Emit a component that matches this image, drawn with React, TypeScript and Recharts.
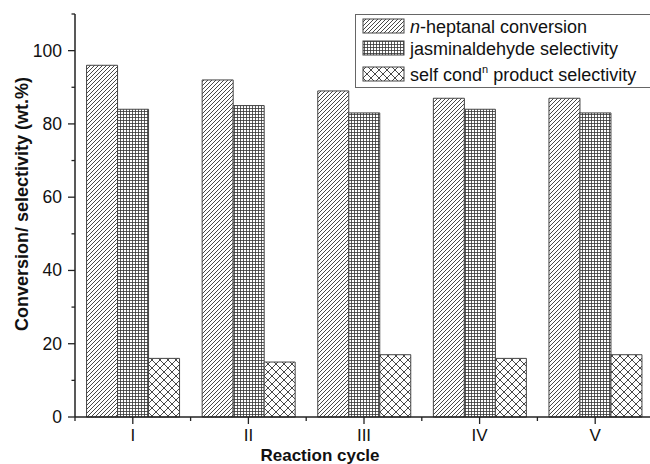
import { BarChart, Bar, XAxis, YAxis, Legend } from 'recharts'

const cycles = ['I', 'II', 'III', 'IV', 'V']
const heptanalConversion = [96, 92, 89, 87, 87]
const jasminaldehydeSelectivity = [84, 85, 83, 84, 83]
const selfCondSelectivity = [16, 15, 17, 16, 17]
const yTicks = [0, 10, 20, 30, 40, 50, 60, 70, 80, 90, 100, 110]

const data = cycles.map((c, i) => ({
  cycle: c,
  conversion: heptanalConversion[i],
  jasmin: jasminaldehydeSelectivity[i],
  selfCond: selfCondSelectivity[i],
}))

const FONT = '"Liberation Sans", Arial, sans-serif'
const INK = '#222'

const YTick = (props: any) => {
  const { x, y, payload } = props
  const v = payload.value
  const major = v % 20 === 0 && v <= 100
  return (
    <g>
      <line x1={x - (major ? 7 : 3.5)} x2={x} y1={y} y2={y} stroke={INK} strokeWidth={1.3} />
      {major && (
        <text x={x - 13} y={y + 6} textAnchor="end" fontSize={17.5} fontFamily={FONT} fill="#111">
          {v}
        </text>
      )}
    </g>
  )
}

const XTick = (props: any) => {
  const { x, y, payload } = props
  const half = 115.6 / 2
  return (
    <g>
      <line x1={x} x2={x} y1={y} y2={y + 7} stroke={INK} strokeWidth={1.3} />
      <line x1={x - half} x2={x - half} y1={y} y2={y + 4} stroke={INK} strokeWidth={1.3} />
      <text x={x} y={y + 24} textAnchor="middle" fontSize={17} fontFamily={FONT} fill="#111">
        {payload.value}
      </text>
    </g>
  )
}

const legendRows = [
  { key: 'conversion', fill: 'url(#diag)' },
  { key: 'jasmin', fill: 'url(#grid)' },
  { key: 'selfCond', fill: 'url(#cross)' },
]

const LegendBox = () => (
  <svg width={300} height={74} style={{ display: 'block' }}>
    <rect x={0.5} y={0.5} width={310} height={73} fill="#fff" stroke="#666" strokeWidth={1} />
    {legendRows.map((r, i) => {
      const top = [5, 27, 53][i]
      return (
        <rect key={r.key} x={8} y={top} width={41} height={14} fill={r.fill} stroke="#444" strokeWidth={1} />
      )
    })}
    <text x={55} y={19} fontSize={18} fontFamily={FONT} fill="#111">
      <tspan fontStyle="italic">n</tspan>-heptanal conversion
    </text>
    <text x={55} y={41} fontSize={18} fontFamily={FONT} fill="#111">
      jasminaldehyde selectivity
    </text>
    <text x={55} y={67} fontSize={18} fontFamily={FONT} fill="#111">
      self cond
      <tspan fontSize={11} dy={-8}>n</tspan>
      <tspan dy={8}> product selectivity</tspan>
    </text>
  </svg>
)

export default function App() {
  return (
    <div style={{ position: 'absolute', left: 0, top: 0, width: 650, height: 464, overflow: 'hidden', background: '#fff' }}>
      <BarChart
        width={660}
        height={464}
        data={data}
        margin={{ top: 14, right: 7, left: 0, bottom: 0 }}
        barCategoryGap="10%"
        barGap={0}
      >
        <defs>
          <pattern id="diag" patternUnits="userSpaceOnUse" width={4} height={4}>
            <rect width={4} height={4} fill="#fff" />
            <path d="M-1,1 l2,-2 M0,4 l4,-4 M3,5 l2,-2" stroke="#333" strokeWidth={0.9} />
          </pattern>
          <pattern id="grid" patternUnits="userSpaceOnUse" width={3} height={3}>
            <rect width={3} height={3} fill="#fff" />
            <path d="M0,0.5 H3 M0.5,0 V3" stroke="#333" strokeWidth={0.8} />
          </pattern>
          <pattern id="cross" patternUnits="userSpaceOnUse" width={8} height={8}>
            <rect width={8} height={8} fill="#fff" />
            <path d="M0,0 L8,8 M8,0 L0,8" stroke="#333" strokeWidth={0.9} />
          </pattern>
        </defs>
        <XAxis
          dataKey="cycle"
          height={47}
          axisLine={{ stroke: INK, strokeWidth: 1.5 }}
          tickLine={false}
          tickSize={0}
          tickMargin={0}
          tick={<XTick />}
          interval={0}
        />
        <XAxis xAxisId="top" dataKey="cycle" orientation="top" height={0} tick={false} tickLine={false} axisLine={{ stroke: '#000', strokeWidth: 1.5 }} />
        <YAxis
          domain={[0, 110]}
          ticks={yTicks}
          width={75}
          interval={0}
          axisLine={{ stroke: INK, strokeWidth: 1.5 }}
          tickLine={false}
          tickSize={0}
          tickMargin={0}
          tick={<YTick />}
        />
        <Legend
          layout="vertical"
          align="center"
          verticalAlign="middle"
          wrapperStyle={{ position: 'absolute', left: 355, top: 14, width: 300, height: 74 }}
          content={<LegendBox />}
        />
        <Bar dataKey="conversion" name="n-heptanal conversion" fill="url(#diag)" stroke="#444" strokeWidth={1} isAnimationActive={false} />
        <Bar dataKey="jasmin" name="jasminaldehyde selectivity" fill="url(#grid)" stroke="#444" strokeWidth={1} isAnimationActive={false} />
        <Bar dataKey="selfCond" name="self cond product selectivity" fill="url(#cross)" stroke="#444" strokeWidth={1} isAnimationActive={false} />
      </BarChart>
      <div
        style={{
          position: 'absolute',
          left: 22,
          top: 204,
          transform: 'translate(-50%, -50%) rotate(-90deg)',
          whiteSpace: 'nowrap',
          fontFamily: FONT,
          fontWeight: 'bold',
          fontSize: 18,
          color: '#111',
        }}
      >
        Conversion/ selectivity (wt.%)
      </div>
      <div
        style={{
          position: 'absolute',
          left: 320,
          top: 447,
          transform: 'translateX(-50%)',
          whiteSpace: 'nowrap',
          fontFamily: FONT,
          fontWeight: 'bold',
          fontSize: 17,
          lineHeight: '17px',
          color: '#111',
        }}
      >
        Reaction cycle
      </div>
    </div>
  )
}
